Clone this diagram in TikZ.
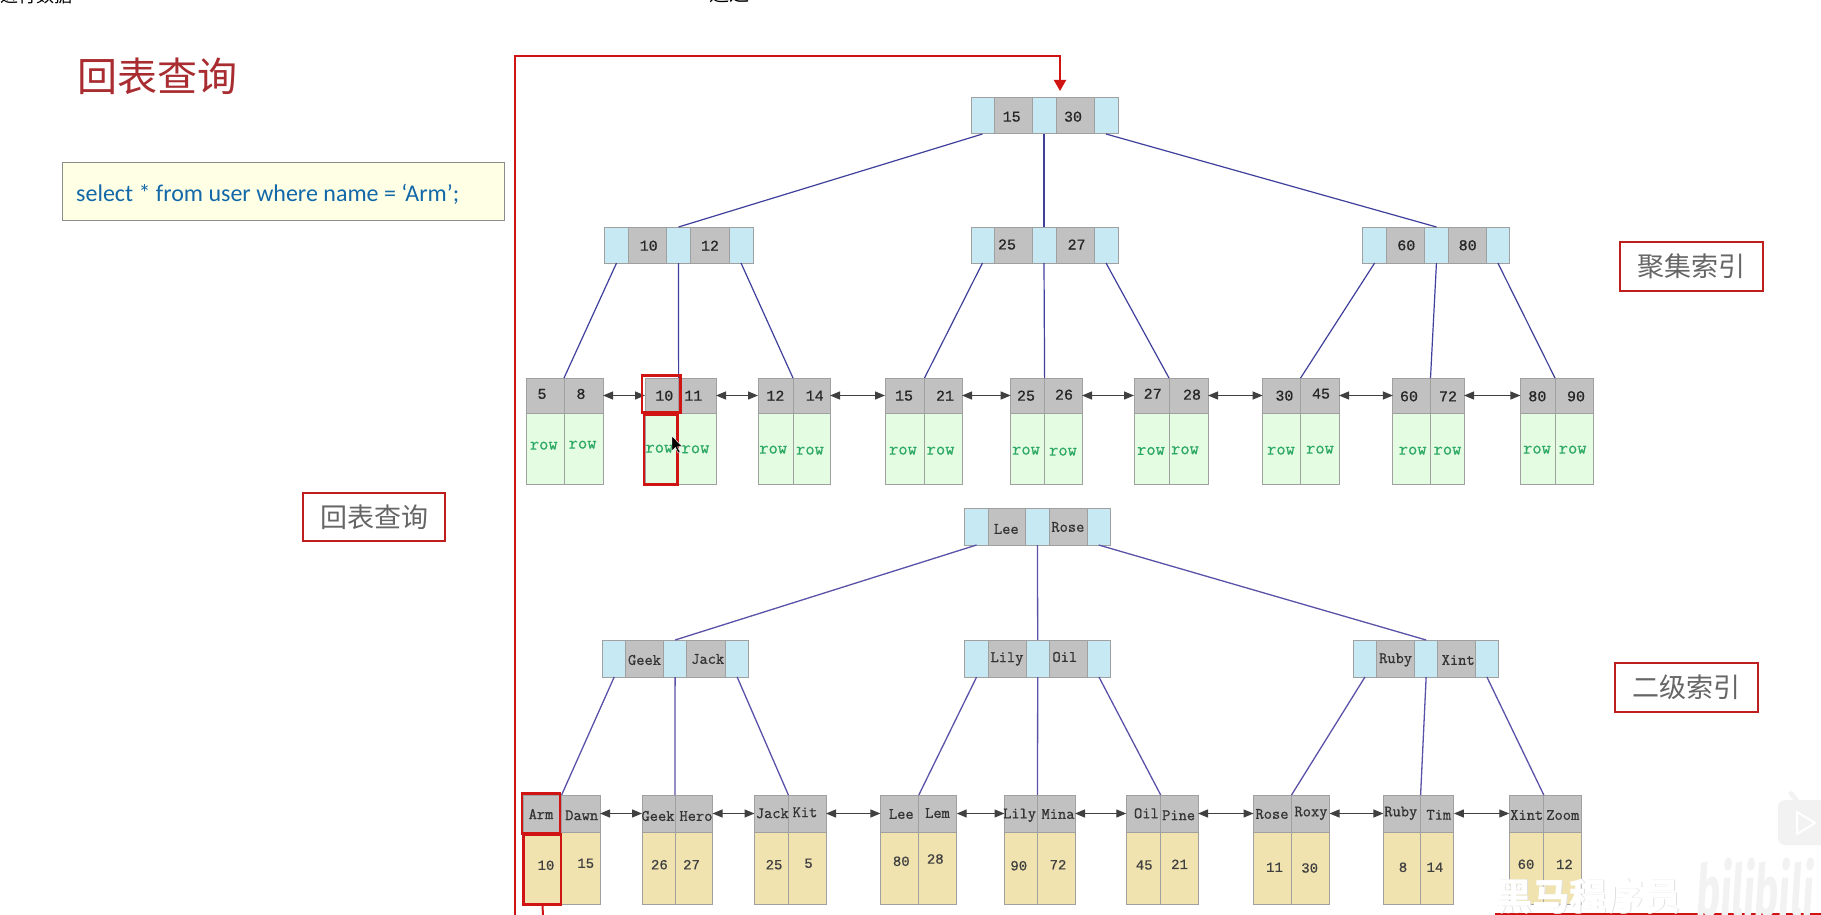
\documentclass[tikz,border=0pt]{standalone}
\usepackage{fontspec}
\setmainfont{Liberation Sans}
\newfontfamily\cjk{Noto Sans CJK SC}
\newfontfamily\monof[FakeBold=0.6]{Liberation Mono}
\newfontfamily\slabf[FakeBold=0.8]{Latin Modern Mono}
\newfontfamily\sqlf{Carlito}
\newfontfamily\wmf{Fira Sans}
\usetikzlibrary{arrows.meta}
\definecolor{linkc}{HTML}{3F3F9C}
\definecolor{linkd}{HTML}{5A52A8}
\definecolor{cellgray}{HTML}{C1C1C1}
\definecolor{cellblue}{HTML}{C7E9F3}
\definecolor{cellgreen}{HTML}{E4FCE1}
\definecolor{cellyellow}{HTML}{F0E3B0}
\definecolor{cellline}{HTML}{A0A0A0}
\definecolor{redl}{HTML}{D01414}
\definecolor{redb}{HTML}{BE1E1E}
\definecolor{titlec}{HTML}{A82C30}
\definecolor{sqlc}{HTML}{1268A8}
\definecolor{greyt}{HTML}{666666}
\definecolor{rowc}{HTML}{2BA863}
\definecolor{sqlfill}{HTML}{FFFFE6}
\tikzset{
  cellb/.style={draw=cellline,line width=1pt,inner sep=0pt,outer sep=0pt,rectangle},
  gray cell/.style={cellb,fill=cellgray},
  blue cell/.style={cellb,fill=cellblue},
  green cell/.style={cellb,fill=cellgreen},
  yellow cell/.style={cellb,fill=cellyellow},
  keyt/.style={inner sep=0pt,font=\monof\fontsize{15}{15}\selectfont,text=black!85},
  namet/.style={inner sep=0pt,font=\slabf\fontsize{16}{16}\selectfont,text=black!80},
  valt/.style={inner sep=0pt,font=\monof\fontsize{14}{14}\selectfont,text=black!75},
  rowt/.style={inner sep=0pt,font=\slabf\fontsize{18}{18}\selectfont,text=rowc},
  link/.style={draw=linkc,line width=1.2pt},
  linkb/.style={draw=linkd,line width=1.3pt},
  sib/.style={draw=black!75,line width=1.2pt,{Triangle[length=10pt,width=8pt]}-{Triangle[length=10pt,width=8pt]}},
  redpath/.style={draw=redl,line width=2pt},
  redbox/.style={draw=redl,line width=2.6pt,rectangle,inner sep=0pt,outer sep=0pt},
  tagbox/.style={draw=redb,line width=2pt,rectangle,inner sep=0pt,outer sep=0pt,font=\cjk\fontsize{27}{27}\selectfont,text=greyt},
}
% name x0 y0 x1 y1 style
\newcommand{\cellbox}[6]{\node[#6,minimum width={(#4-#2)*1pt},minimum height={(#5-#3)*1pt}] (#1) at ({(#2+#4)/2},{(#3+#5)/2}) {};}
% internal node: id x0..x5 y0 y1
\newcommand{\inode}[9]{%
  \cellbox{#1a}{#2}{#8}{#3}{#9}{blue cell}
  \cellbox{#1b}{#3}{#8}{#4}{#9}{gray cell}
  \cellbox{#1c}{#4}{#8}{#5}{#9}{blue cell}
  \cellbox{#1d}{#5}{#8}{#6}{#9}{gray cell}
  \cellbox{#1e}{#6}{#8}{#7}{#9}{blue cell}}
% leaf: id x0 x1 x2 y0 y1 y2 lowerstyle
\newcommand{\lnode}[8]{%
  \cellbox{#1c}{#2}{#6}{#3}{#7}{#8}
  \cellbox{#1d}{#3}{#6}{#4}{#7}{#8}
  \cellbox{#1a}{#2}{#5}{#3}{#6}{gray cell}
  \cellbox{#1b}{#3}{#5}{#4}{#6}{gray cell}}
\begin{document}
\begin{tikzpicture}[x=1pt,y=-1pt]
\useasboundingbox (0,0) rectangle (1821,915);
\clip (0,0) rectangle (1821,915);
\fill[white] (0,0) rectangle (1821,915);
% cut-off text at the top edge
\node[anchor=base west,inner sep=0pt,font=\cjk\fontsize{18}{18}\selectfont,text=black] (cuta) at (0,3) {进行数据};
\node[anchor=base west,inner sep=0pt,font=\cjk\fontsize{20}{20}\selectfont,text=black] (cutb) at (709,2) {通过};
% title and SQL
\node[anchor=west,inner sep=0pt,font=\cjk\fontsize{40}{40}\selectfont,text=titlec] (title) at (77,76) {回表查询};
\node[draw=black!45,fill=sqlfill,line width=1pt,rectangle,inner sep=0pt,minimum width=442.6pt,minimum height=58pt] (sqlbox) at (283.3,191.3) {};
\node[anchor=west,inner sep=0pt,font=\sqlf\fontsize{24}{24}\selectfont,text=sqlc] (sql) at (76,194) {select * from user where name = ‘Arm’;};
% tag boxes
\node[tagbox,minimum width=142.6pt,minimum height=48.3pt] (tagA) at (374,516.8) {回表查询};
\node[tagbox,minimum width=143pt,minimum height=48.7pt] (tagB) at (1691.5,266.6) {聚集索引};
\node[tagbox,minimum width=142.6pt,minimum height=49.3pt] (tagC) at (1686.7,687.3) {二级索引};

% ---------- clustered index
\inode{r}{971}{994}{1032}{1056}{1094}{1118}{98}{134}
\inode{pa}{604.5}{628.6}{666.5}{690.6}{729}{753}{227}{263}
\inode{pb}{971}{994}{1032}{1056}{1094}{1118}{227}{263}
\inode{pc}{1362.8}{1386.5}{1424.6}{1448.3}{1486}{1509.7}{227}{263}
\lnode{la}{526}{564}{603}{378}{413}{484}{green cell}
\lnode{lb}{645}{678.6}{716}{378}{413}{484}{green cell}
\lnode{lc}{758}{793}{830}{378}{413}{484}{green cell}
\lnode{ld}{885}{924.5}{962}{378}{413}{484}{green cell}
\lnode{le}{1010.7}{1044.6}{1082}{378}{413}{484}{green cell}
\lnode{lf}{1134}{1169}{1208}{378}{413}{484}{green cell}
\lnode{lg}{1262.6}{1300.6}{1339}{378}{413}{484}{green cell}
\lnode{lh}{1392.9}{1430.5}{1464}{378}{413}{484}{green cell}
\lnode{li}{1520.4}{1555}{1593}{378}{413}{484}{green cell}
\draw[link] (ra.south) -- (pac.north);
\draw[link] (rc.south) -- (pbc.north);
\draw[link] (re.south) -- (pcc.north);
\draw[link] (paa.south) -- (laa.north east);
\draw[link] (pac.south) -- (lba.north east);
\draw[link] (pae.south) -- (lca.north east);
\draw[link] (pba.south) -- (lda.north east);
\draw[link] (pbc.south) -- (lea.north east);
\draw[link] (pbe.south) -- (lfa.north east);
\draw[link] (pca.south) -- (lga.north east);
\draw[link] (pcc.south) -- (lha.north east);
\draw[link] (pce.south) -- (lia.north east);
\foreach \p/\q in {la/lb,lb/lc,lc/ld,ld/le,le/lf,lf/lg,lg/lh,lh/li}
  \draw[sib] (\p b.east) -- (\q a.west);
\foreach \n/\x/\y/\t in {
  a/1011.7/116.7/15,b/1073/116.7/30,
  c/648.7/245.7/10,d/710/245.7/12,e/1007/244.5/25,f/1076.6/244.5/27,g/1406.3/245.3/60,h/1467.7/245.3/80,
  i/542/394/5,j/581/394/8,k/664.3/395.7/10,l/693.3/395.7/11,m/775.4/395.7/12,n/814.7/395.7/14,
  o/904/395.7/15,p/945/395.7/21,q/1026/395.7/25,r/1064/394.7/26,s/1152.7/393.7/27,t/1192/394.7/28,
  u/1284.4/395.7/30,v/1321/393.7/45,w/1409/396.3/60,x/1448/396.3/72,y/1537.4/396.3/80,z/1576/396.3/90}
  \node[keyt] (key\n) at (\x,\y) {\t};
\foreach \n/\x/\y in {
  a/543.8/445.7,b/582.6/444.7,c/659.4/448.7,d/695.5/449.3,e/773.2/449.7,f/810/450.7,
  g/903/450.7,h/940.6/450.7,i/1026/450.7,j/1063/451.7,k/1151/451,l/1185/450.3,
  m/1281/450.7,n/1320/449.7,o/1412.7/450.7,p/1447.5/450.7,q/1537/449.7,r/1572.7/449.7}
  \node[rowt] (row\n) at (\x,\y) {row};

% ---------- secondary index
\inode{s}{964.7}{988.4}{1025.9}{1049}{1087}{1110.4}{508.3}{545}
\inode{qa}{602.5}{625.9}{663.4}{686.8}{725.5}{748.8}{640}{677}
\inode{qb}{964.7}{988.5}{1026}{1049.4}{1087.3}{1110.6}{640}{677}
\inode{qc}{1353.3}{1376.6}{1414.7}{1437.6}{1475.2}{1498.6}{640}{677}
\lnode{ma}{523}{561.6}{600}{795}{832}{904}{yellow cell}
\lnode{mb}{642}{675}{712.5}{795}{832}{904}{yellow cell}
\lnode{mc}{754.5}{788.4}{826}{795}{832}{904}{yellow cell}
\lnode{md}{880.4}{918.8}{956.7}{795}{832}{904}{yellow cell}
\lnode{me}{1004.5}{1037.5}{1075}{795}{832}{904}{yellow cell}
\lnode{mf}{1126.3}{1160.7}{1198}{795}{832}{904}{yellow cell}
\lnode{mg}{1253.5}{1291.5}{1329.5}{795}{832}{904}{yellow cell}
\lnode{mh}{1383.4}{1420.6}{1453.9}{795}{832}{904}{yellow cell}
\lnode{mi}{1509.3}{1543.8}{1581}{795}{832}{904}{yellow cell}
\draw[linkb] (sa.south) -- (qac.north);
\draw[linkb] (sc.south) -- (qbc.north);
\draw[linkb] (se.south) -- (qcc.north);
\draw[linkb] (qaa.south) -- (maa.north east);
\draw[linkb] (qac.south) -- (mba.north east);
\draw[linkb] (qae.south) -- (mca.north east);
\draw[linkb] (qba.south) -- (mda.north east);
\draw[linkb] (qbc.south) -- (mea.north east);
\draw[linkb] (qbe.south) -- (mfa.north east);
\draw[linkb] (qca.south) -- (mga.north east);
\draw[linkb] (qcc.south) -- (mha.north east);
\draw[linkb] (qce.south) -- (mia.north east);
\foreach \p/\q in {ma/mb,mb/mc,mc/md,md/me,me/mf,mf/mg,mg/mh,mh/mi}
  \draw[sib] (\p b.east) -- (\q a.west);
\foreach \n/\x/\y/\t in {
  a/1006.3/529/Lee,b/1067.9/527/Rose,
  c/644.5/660/Geek,d/707.7/659/Jack,e/1007/659/Lily,f/1064.8/657/Oil,g/1395.6/660/Ruby,h/1458.2/660/Xint,
  i/541/814/Arm,j/581.7/815.3/Dawn,k/658/816/Geek,l/696/816/Hero,m/772.3/813.3/Jack,n/805/812.3/Kit,
  o/901.3/814/Lee,p/937.5/813/Lem,q/1019.6/815.3/Lily,r/1058/814/Mina,s/1146.4/813.3/Oil,t/1178.6/815.3/Pine,
  u/1272/814/Rose,v/1311/813.3/Roxy,w/1400.8/813.3/Ruby,x/1438.8/814.7/Tim,y/1526.7/815/Xint,z/1562.8/815/Zoom}
  \node[namet] (nam\n) at (\x,\y) {\t};
\foreach \n/\x/\y/\t in {
  a/546/865.3/10,b/585.7/863.3/15,c/659.4/864.7/26,d/691.5/864.7/27,e/774/864.7/25,f/808.5/863.3/5,
  g/901.3/861.3/80,h/935.3/859/28,i/1018.8/865.7/90,j/1058/864.7/72,k/1144.2/865/45,l/1179.5/864.3/21,
  m/1274.5/867.3/11,n/1309.7/868/30,o/1403/867.3/8,p/1434.9/867.3/14,q/1526/864.3/60,r/1564.4/864.3/12}
  \node[valt] (val\n) at (\x,\y) {\t};

% ---------- red highlight and look-up path
\node[redbox,minimum width=38.4pt,minimum height=37pt] (hlA) at (661.2,394.2) {};
\node[redbox,minimum width=33.9pt,minimum height=69.3pt] (hlB) at (660.8,449.7) {};
\node[redbox,minimum width=38pt,minimum height=40pt] (hlC) at (541,813.3) {};
\node[redbox,minimum width=37.3pt,minimum height=70pt] (hlD) at (542.4,869.3) {};
\coordinate (pathBottom) at (543.3,920);
\coordinate (pathCorner) at (515,920);
\coordinate (pathTopL) at (515,55.7);
\coordinate (pathTopR) at (1060,55.7);
\coordinate (pathTip) at (1060,91);
\coordinate (bottomA) at (1495,914.3);
\coordinate (bottomB) at (1821,914.3);
\draw[redpath] (hlD.south) -- (pathBottom);
\draw[redpath,-{Triangle[length=11pt,width=12pt]}] (pathCorner) -- (pathTopL) -- (pathTopR) -- (pathTip);
\draw[draw=redl,line width=2pt] (bottomA) -- (bottomB);

% mouse pointer
\fill[black,draw=white,line width=.4pt] (672,436) -- (672,451) -- (675.5,447.5) -- (678,453) -- (680,452) -- (677.5,446.8) -- (682,446.5) -- cycle;

% video overlay marks
\node[anchor=base west,inner sep=0pt,font=\cjk\bfseries\fontsize{37}{37}\selectfont,text=black!12] (wmS) at (1495.8,910.6) {黑马程序员};
\node[anchor=base west,inner sep=0pt,font=\cjk\bfseries\fontsize{37}{37}\selectfont,text=white] (wm) at (1495,910) {黑马程序员};
\node[anchor=base west,inner sep=0pt,xscale=.56,xslant=.12,font=\wmf\bfseries\fontsize{72}{72}\selectfont,text=black!5] (bili) at (1695,916) {bilibili};
\fill[black!5,rounded corners=7pt] (1778,800) rectangle (1830,845);
\fill[black!5] (1788,793) -- (1792,791) -- (1800,801) -- (1794,801) -- cycle;
\draw[white,line width=2pt,line join=round] (1797,812) -- (1797,834) -- (1815,823) -- cycle;
\end{tikzpicture}
\end{document}
